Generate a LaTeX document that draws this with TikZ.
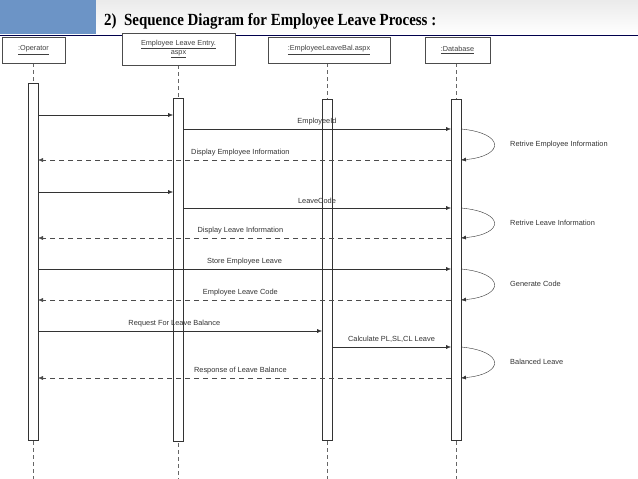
\documentclass[tikz,border=0pt]{standalone}
\usepackage{fontspec}
\setsansfont{Liberation Sans}
\setmainfont{Liberation Serif}
\usetikzlibrary{arrows.meta}
\definecolor{bandblue}{RGB}{108,148,198}
\tikzset{
  head/.style={draw=black!70, fill=white, font=\sffamily\fontsize{7.3}{8.3}\selectfont, text=black!75, align=center, inner sep=1pt},
  act/.style={draw=black!80, fill=white},
  life/.style={draw=black!60, dashed, dash pattern=on 4pt off 3pt},
  msg/.style={draw=black!80, -{Latex[length=5pt,width=4pt]}},
  ret/.style={draw=black!70, dashed, dash pattern=on 5pt off 4pt, -{Latex[length=5pt,width=4pt]}},
  lbl/.style={font=\sffamily\fontsize{7.4}{8.5}\selectfont, text=black!80, inner sep=1pt}
}
\begin{document}
\begin{tikzpicture}[x=1pt,y=-1pt]
 \useasboundingbox (0,0) rectangle (638,479);
 % background band
 \shade[top color=black!8, bottom color=white] (0,0) rectangle (638,34);
 \fill[bandblue] (0,0) rectangle (96,34);
 \draw[blue!30!black, line width=0.6pt] (0,35) -- (638,35);
 \node[font=\bfseries\fontsize{17}{18}\selectfont, anchor=west, inner sep=0pt, xscale=0.88] (title) at (104,21) {2)\ \ Sequence Diagram for Employee Leave Process :};
 % lifelines
 \draw[life] (33,63) -- (33,479);
 \draw[life] (178,65) -- (178,479);
 \draw[life] (327,63) -- (327,479);
 \draw[life] (456,63) -- (456,479);
 % heads
 \node[head, minimum width=63pt, minimum height=26pt] (op) at (33.5,50) {\underline{:Operator}};
 \node[head, minimum width=113pt, minimum height=32pt] (entry) at (178.5,49) {\underline{Employee Leave Entry.}\\[1pt]\underline{aspx}};
 \node[head, minimum width=122pt, minimum height=26pt] (bal) at (329,50) {\underline{:EmployeeLeaveBal.aspx}};
 \node[head, minimum width=65pt, minimum height=26pt] (db) at (457.5,50) {\underline{:Database}};
 % activations
 \draw[act] (28,83) rectangle (38,440);
 \draw[act] (173,98) rectangle (183,441);
 \draw[act] (322,99) rectangle (332,440);
 \draw[act] (451,99) rectangle (461,440);
 % messages
 \coordinate (o1) at (38,115); \coordinate (e1) at (173,115);
 \draw[msg] (o1) -- (e1);
 \coordinate (e2) at (183,129); \coordinate (d2) at (451,129);
 \draw[msg] (e2) -- node[lbl, above=3pt] (m2) {EmployeeId} (d2);
 \coordinate (d3) at (461,129); \coordinate (d4) at (461,160);
 \draw[msg] (d3) .. controls (505,133) and (505,156) .. (d4);
 \node[lbl, anchor=west] (l1) at (509,145) {Retrive Employee Information};
 \coordinate (d5) at (451,160); \coordinate (o5) at (38,160);
 \draw[ret] (d5) -- node[lbl, above=3pt, pos=0.51] (m5) {Display Employee Information} (o5);
 \coordinate (o6) at (38,192); \coordinate (e6) at (173,192);
 \draw[msg] (o6) -- (e6);
 \coordinate (e7) at (183,208); \coordinate (d7) at (451,208);
 \draw[msg] (e7) -- node[lbl, above=3pt] (m7) {LeaveCode} (d7);
 \coordinate (d8) at (461,208); \coordinate (d9) at (461,238);
 \draw[msg] (d8) .. controls (505,212) and (505,234) .. (d9);
 \node[lbl, anchor=west] (l2) at (509,223) {Retrive Leave Information};
 \coordinate (d10) at (451,238); \coordinate (o10) at (38,238);
 \draw[ret] (d10) -- node[lbl, above=3pt, pos=0.51] (m10) {Display Leave Information} (o10);
 \coordinate (o11) at (38,269); \coordinate (d11) at (451,269);
 \draw[msg] (o11) -- node[lbl, above=3pt, pos=0.5] (m11) {Store Employee Leave} (d11);
 \coordinate (d12) at (461,269); \coordinate (d13) at (461,300);
 \draw[msg] (d12) .. controls (505,273) and (505,296) .. (d13);
 \node[lbl, anchor=west] (l3) at (509,284) {Generate Code};
 \coordinate (d14) at (451,300); \coordinate (o14) at (38,300);
 \draw[ret] (d14) -- node[lbl, above=3pt, pos=0.51] (m14) {Employee Leave Code} (o14);
 \coordinate (o15) at (38,331); \coordinate (b15) at (322,331);
 \draw[msg] (o15) -- node[lbl, above=3pt, pos=0.48] (m15) {Request For Leave Balance} (b15);
 \coordinate (b16) at (332,347); \coordinate (d16) at (451,347);
 \draw[msg] (b16) -- node[lbl, above=3pt, pos=0.5] (m16) {Calculate PL,SL,CL Leave} (d16);
 \coordinate (d17) at (461,347); \coordinate (d18) at (461,378);
 \draw[msg] (d17) .. controls (505,351) and (505,374) .. (d18);
 \node[lbl, anchor=west] (l4) at (509,362) {Balanced Leave};
 \coordinate (d19) at (451,378); \coordinate (o19) at (38,378);
 \draw[ret] (d19) -- node[lbl, above=3pt, pos=0.51] (m19) {Response of Leave Balance} (o19);
\end{tikzpicture}
\end{document}
